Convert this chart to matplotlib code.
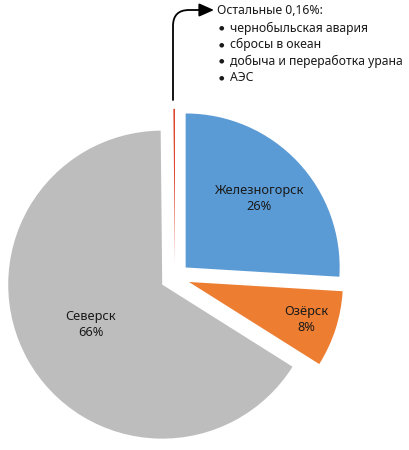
import numpy as np
import matplotlib
matplotlib.use("Agg")
import matplotlib.pyplot as plt

plt.rcParams['font.family'] = ['Noto Sans', 'DejaVu Sans']

# data
cities = ["Железногорск", "Озёрск", "Северск", "Остальные"]
shares = [26, 8, 66, 0.16]
pct_labels = ["26%", "8%", "66%", "0,16%"]
colors = ["#5B9BD5", "#ED7D31", "#BDBDBD", "#DC3A22"]
others_items = ["чернобыльская авария", "сбросы в океан",
                "добыча и переработка урана", "АЭС"]

# layout (radius 1 == 154 px, pie centre at px 175, 277.5)
PX = 154.0
def px2d(x, y):
    return (x - 175) / PX, (277.5 - y) / PX

fig = plt.figure(figsize=(4.1, 4.5), dpi=100)
ax = fig.add_axes([0, 0, 1, 1])
wedges, _ = ax.pie(shares, colors=colors, startangle=90, counterclock=False,
                   explode=[0.095] * 4, radius=1.0,
                   wedgeprops=dict(linewidth=0))
ax.set_xlim(-175 / PX, (410 - 175) / PX)
ax.set_ylim(-(450 - 277.5) / PX, 277.5 / PX)
ax.set_aspect('equal')
ax.axis('off')

# labels inside the three big slices
label_dist = [0.65, 0.80, 0.53]
for i in range(3):
    w = wedges[i]
    th = np.deg2rad((w.theta1 + w.theta2) / 2)
    cx, cy = w.center
    ax.text(cx + label_dist[i] * np.cos(th), cy + label_dist[i] * np.sin(th),
            cities[i] + "\n" + pct_labels[i], ha='center', va='center',
            fontsize=9.2, color='#1a1a1a', linespacing=1.3)

# callout for the tiny slice
tx, ty = px2d(217, 11)
ax.text(tx, ty, "Остальные " + pct_labels[3] + ":", ha='left', va='center',
        fontsize=8.8, color='#1a1a1a')
for k, item in enumerate(others_items):
    yy = px2d(0, 28 + k * 16.5)[1]
    ax.text(px2d(219, 0)[0], yy, "●", ha='left', va='center', fontsize=4.5, color='#1a1a1a')
    ax.text(px2d(230, 0)[0], yy, item, ha='left', va='center', fontsize=8.8, color='#1a1a1a')

ax.annotate("", xy=px2d(214, 10), xytext=px2d(173, 100),
            arrowprops=dict(arrowstyle='-|>,head_length=0.9,head_width=0.4',
                            color='black', lw=1.3,
                            connectionstyle='angle,angleA=90,angleB=0,rad=16',
                            shrinkA=0, shrinkB=0))

fig.savefig("out.png", dpi=100)
